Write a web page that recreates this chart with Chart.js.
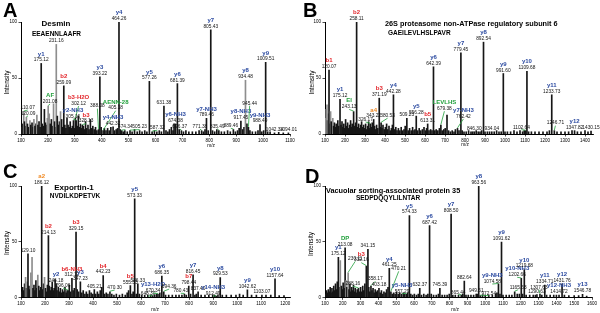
<!DOCTYPE html>
<html>
<head>
<meta charset="utf-8">
<script src="https://cdn.jsdelivr.net/npm/chart.js@4.4.1/dist/chart.umd.min.js"></script>
<style>
  body { margin: 0; background: #fff; }
  #fig { position: relative; width: 600px; height: 313px; overflow: hidden; background: #fff; }
  canvas { position: absolute; }
  .t { position: absolute; font-family: "Liberation Sans", Arial, sans-serif; font-weight: bold;
       white-space: nowrap; line-height: 1; color: #000; }
  .c { transform: translate(-50%, -50%); }
  .l { transform: translate(0, -50%); }
</style>
</head>
<body>
<div id="fig">
  <canvas id="cA" width="300" height="156" style="left:0;top:0"></canvas>
  <canvas id="cB" width="300" height="156" style="left:300px;top:0"></canvas>
  <canvas id="cC" width="300" height="157" style="left:0;top:156px"></canvas>
  <canvas id="cD" width="300" height="157" style="left:300px;top:156px"></canvas>

  <div class="t" style="left:3px;top:0;font-size:20px">A</div>
  <div class="t" style="left:303px;top:0;font-size:20px">B</div>
  <div class="t" style="left:3px;top:161px;font-size:20px">C</div>
  <div class="t" style="left:305px;top:166px;font-size:20px">D</div>

  <div class="t c" style="left:56px;top:24px;font-size:8px">Desmin</div>
  <div class="t c" style="left:56.5px;top:33.5px;font-size:6.5px">EEAENNLAAFR</div>
  <div class="t l" style="left:385px;top:24.2px;font-size:7.3px">26S proteasome non-ATPase regulatory subunit 6</div>
  <div class="t l" style="left:388px;top:32.5px;font-size:6.5px">GAEILEVLHSLPAVR</div>
  <div class="t c" style="left:74px;top:187.7px;font-size:8px">Exportin-1</div>
  <div class="t c" style="left:75px;top:196px;font-size:6.5px">NVDILKDPETVK</div>
  <div class="t l" style="left:326px;top:190.5px;font-size:7.3px">Vacuolar sorting-associated protein 35</div>
  <div class="t c" style="left:388px;top:198.3px;font-size:6.5px">SEDPDQQYLILNTAR</div>
</div>
<script>
// [m/z, relative intensity]
const peaksA = [
  [103,6],[106,9],[110.07,20],[113,11],[117,7],[120.09,15],[124,9],[129,6],[133,12],[136,8],[141,10],[145,6],
  [148,13],[152,7],[156,9],[159,17],[163,8],[167,11],[171,6],[175.12,63],[179,9],[183,7],[187,22],[191,10],
  [195,8],[198,14],[201.08,25],[205,18],[209,9],[213,13],[217,7],[221,27],[225,11],[228,6],[231.16,80],[235,16],
  [239,8],[243,11],[247,20],[251,13],[255,6],[259.09,43],[263,8],[267,5],[271,14],[275,8],[279,6],[283,11],
  [287,5],[291,7],[295,12],[299,5],[302.12,14],[305.16,12],[309,7],[313,16],[317,6],[321,9],[325,5],[328.13,8],
  [332,7],[336,4],[340,11],[344,5],[349,8],[353,4],[358,13],[362,5],[367,7],[372,4],[377,6],[382,3],[388.08,4],
  [393.22,51],[398,6],[405.18,3],[410,5],[416,3],[422,5],[428,3],[434,6],[442.32,6.5],[448,3],[454,4],[459,5],
  [464.26,100],[469,4],[474.34,3],[480,2],[486,3],[495,2],[505.23,3],[513,2],[522,4],[532,2],[541,3],[550,2],
  [560,3],[568,2],[577.26,47],[587.32,2],[596,3],[605,2],[614,3],[622,2],[631.38,25],[639,3],[646,2],[652,4],
  [659,6],[665,3],[669,9],[674.38,9],[681.39,45],[688,4],[696.37,3],[704,2],[713,3],[724,2],[737,2],[750,2],
  [762,3],[771.38,3],[778,2],[784,4],[789.46,14],[796,3],[805.43,93],[812,3],[820,2],[828,4],[835.49,3],[845,2],
  [856,2],[868,3],[878,2],[889.46,4],[897,2],[905,3],[911,5],[917.45,11.5],[924,4],[929,6],[934.48,48],[940,9],
  [945.44,6],[951,3],[960,2],[972,2],[981,3],[988.49,8.5],[995,2],[1002,3],[1009.51,64],[1017,2],[1026,2],
  [1042.34,1],[1058,1.5],[1075,1],[1094.01,1]
];
const peaksB = [
  [103,14],[106,22],[110,26],[113,12],[116,18],[120.07,57],[124,9],[128,20],[131,11],[135,8],[139,14],[143,7],
  [147,10],[151,6],[156,9],[160,5],[164,12],[168,7],[175.12,31],[180,8],[185,11],[189,6],[194,9],[198,5],
  [203,13],[208,7],[213,10],[218,5],[223,8],[228,12],[232,6],[236,9],[243.13,20],[248,7],[253,10],[258.11,100],
  [263,6],[268,9],[273,5],[278,8],[283,11],[288,6],[293,8],[298,5],[303,9],[308,4],[313,7],[318,11],[322,5],
  [326.17,9],[331,6],[336,10],[340,5],[343.22,13],[348,7],[353,4],[358,8],[364,5],[371.19,32],[376,6],
  [380.53,10],[385,5],[390,8],[396,4],[402,6],[408,9],[414,4],[420,7],[426,3],[432,5],[437,8],[442.28,35],
  [448,4],[454,6],[460,3],[467,5],[474,3],[481,6],[488,3],[495,4],[501,7],[509.23,14],[516,3],[523,5],[531,3],
  [538,6],[545,3],[550,4],[556.28,16],[563,3],[571,5],[579,3],[587,4],[595,6],[602,3],[608,5],[613.31,9],
  [620,3],[628,4],[635,3],[642.39,60],[649,3],[656,4],[664,3],[672,5],[679.38,8],[686,3],[694,4],[701,5],
  [710,17],[718,3],[727,2],[736,3],[745,2],[752,4],[762.42,5],[770,3],[779.45,72.5],[786,3],[795,2],[806,2],
  [818,3],[830,2],[838,2],[846.3,2],[856,3],[866,2],[875,2],[883,3],[892.54,82],[900,2],[912,2],[923,2],
  [934.04,2],[946,2],[958,3],[970,2],[981,2],[991.6,54],[1000,2],[1012,2],[1028,2],[1045,3],[1060,2],[1075,3],
  [1088,2],[1096,3],[1102.64,3],[1109.68,56],[1118,2],[1132,2],[1150,2],[1170,2],[1190,2],[1210,2],[1222,3],
  [1233.73,35],[1246.71,3],[1260,2],[1280,2],[1300,2],[1318,2],[1335,3],[1347.82,3],[1362,2],[1380,2],
  [1400,3],[1415,2],[1430.15,2.5]
];
const peaksC = [
  [103,5],[107,9],[111,6],[115,12],[119,18],[123,8],[126,14],[129.1,39],[133,10],[137,7],[141,22],[146,36],
  [150,8],[154,11],[158,6],[162,15],[166,8],[170,20],[174,10],[178,6],[182,9],[186.12,100],[190,7],[194,12],
  [198,18],[202,8],[206,5],[210,11],[214.13,55.5],[218,10],[222,6],[226,9],[230,14],[234,6],[238,8],[242,16],
  [246.18,12],[250,6],[255,9],[259,5],[264,8],[268,4],[273,7],[278,5],[283,9],[288,4],[292,6],[296.06,6],
  [301,11],[306,5],[312.12,17],[317,6],[322,8],[329.15,58.7],[334,7],[340,5],[347.23,14],[353,4],[359,6],
  [366,3],[372,5],[378,3],[385,6],[392,4],[399,3],[405.21,7],[411,3],[418,5],[424,3],[430,6],[436,9],
  [442.23,19.6],[448,3],[455,4],[462,3],[470.3,5],[478,3],[487,2],[497,3],[510,2],[522,3],[534,2],[542,4],
  [548,6],[555.33,10.5],[562,3],[567,5],[573.33,88.5],[580,3],[586.33,12],[593,3],[603,2],[615,2],[628,2],
  [640,2],[648.3,1.5],[656,2],[664,3],[670.34,3],[678,4],[686.35,19],[694.36,5],[702,2],[715,2],[730,2],
  [745,2],[758,2],[770,2],[780.43,3],[788,2],[798.44,10],[806,3],[816.45,20.2],[824,2],[830,3],[837.4,5],
  [850,2],[866,2],[882,2],[898,2],[906,2],[912.49,1],[920,2],[929.53,17.8],[938,2],[955,2],[975,2],[995,2],
  [1010,3],[1025,2],[1042.62,6.7],[1060,2],[1080,2],[1103.07,2],[1120,2],[1140,2],[1157.64,16.6],[1175,1.5],
  [1195,1.5]
];
const peaksD = [
  [104,3],[109,6],[114,4],[119,7],[124,5],[129,9],[134,4],[139,8],[144,5],[149,10],[154,6],[159,12],[164,7],
  [169,14],[175.12,36],[180,9],[186,33],[192,10],[197,7],[202,13],[207,8],[213.08,44.5],[218,15],[223,9],
  [230.11,22],[235,7],[240,12],[245,5],[250,9],[255,6],[260,11],[265,5],[270,8],[275,4],[281,7],[288.16,8],
  [294,5],[300,9],[306,5],[312,10],[318,6],[324,12],[332.16,28],[341.15,43],[346,9],[352,5],[358.17,10],
  [364,6],[370,8],[376,4],[382,7],[388,5],[395,6],[403.18,8],[410,4],[417,6],[424,3],[431,5],[438,4],[446,7],
  [454,9],[461.25,26],[470.21,5],[478,3],[486,4],[494,3],[502,5],[511,3],[520,4],[530,3],[540,4],[548,3],
  [557.29,3],[565,4],[574.33,73.5],[582,3],[592,2],[602,3],[614,2],[624,3],[632.37,8],[642,2],[655,3],
  [668,2],[678,3],[687.42,64.5],[697,3],[710,2],[725,2],[737,3],[745.39,8],[758,2],[772,2],[786,2],[798,3],
  [808.5,74.7],[818,2],[832,2],[850,2],[865.44,2],[874,3],[882.64,14.6],[892,2],[905,2],[920,2],[935,2],
  [949.51,3],[956,3],[963.56,100],[972.54,1.5],[985,2],[1000,2],[1020,2],[1040,2],[1058,3],[1066,4],
  [1074.58,12],[1083,3],[1091.62,49.6],[1100,2],[1118,2],[1135,2],[1150,2],[1165.63,5],[1180,3],[1192,3],
  [1202.66,17],[1210,3],[1219.68,25],[1230,2],[1250,2],[1270,2],[1282,2],[1290.63,2.5],[1307.63,3],[1318,2],
  [1334.71,11],[1345,2],[1365,2],[1385,2],[1400,2],[1414.72,2],[1431.76,12],[1445,2],[1470,1.5],[1500,1.5],
  [1525,1.5],[1546.78,2.7],[1570,1]
];

// annotated peaks: [m/z, ion name]
const labelsA = [
  [110.07,''],[120.09,''],[175.12,'y1'],[201.08,'AF'],[231.16,''],[259.09,'b2'],[302.12,'b3-H2O'],
  [305.16,'y2-NH3'],[328.13,'b3'],[388.08,''],[393.22,'y3'],[405.18,'AENN-28'],[442.32,'y4-NH3'],
  [464.26,'y4'],[474.34,''],[505.23,''],[577.26,'y5'],[587.32,''],[631.38,''],[674.38,'y6-NH3'],
  [681.39,'y6'],[696.37,''],[771.38,''],[789.46,'y7-NH3'],[805.43,'y7'],[835.49,''],[889.46,''],
  [917.45,'y8-NH3'],[934.48,'y8'],[945.44,''],[988.49,'y9-NH3'],[1009.51,'y9'],[1042.34,''],[1094.01,'']
];
const labelsB = [
  [120.07,'b1'],[175.12,'y1'],[243.13,'EI'],[258.11,'b2'],[326.17,''],[343.22,'a4'],[371.19,'b3'],
  [380.53,''],[442.28,'y4'],[509.23,''],[556.28,'y5'],[613.31,'b5'],[642.39,'y6'],[679.38,'LEVLHS'],
  [762.42,'y7-NH3'],[779.45,'y7'],[846.3,''],[892.54,'y8'],[934.04,''],[991.6,'y9'],[1102.64,''],
  [1109.68,'y10'],[1233.73,'y11'],[1246.71,''],[1347.82,'y12'],[1430.15,'']
];
const labelsC = [
  [129.1,''],[186.12,'a2'],[214.13,'b2'],[246.18,'y2'],[296.06,''],[312.12,'b6-NH3'],[329.15,'b3'],
  [347.23,'y3'],[405.21,''],[442.23,'b4'],[470.3,''],[555.33,'b5'],[573.33,'y5'],[586.33,''],[648.3,''],
  [670.34,'y13-H2O'],[686.35,'y6'],[694.36,''],[780.43,''],[798.44,'b7'],[816.45,'y7'],[837.4,''],
  [912.49,'y14-NH3'],[929.53,'y8'],[1042.62,'y9'],[1103.07,''],[1157.64,'y10']
];
const labelsD = [
  [175.12,'y1'],[213.08,'DP'],[230.11,''],[288.16,''],[332.16,'b3'],[341.15,''],[358.17,''],[403.18,''],
  [461.25,'y4'],[470.21,''],[557.29,'y5-NH3'],[574.33,'y5'],[632.37,''],[687.42,'y6'],[745.39,''],
  [808.5,'y7'],[865.44,''],[882.64,''],[949.51,''],[963.56,'y8'],[972.54,''],[1074.58,'y9-NH3'],
  [1091.62,'y9'],[1165.63,''],[1202.66,'y10-NH3'],[1219.68,'y10'],[1290.63,''],[1307.63,''],
  [1334.71,'y11'],[1414.72,'y12-NH3'],[1431.76,'y12'],[1546.78,'y13']
];

// labels moved off their peak (label anchor in m/z, intensity units) get a green leader line
const leadersA = {
  110.07:[125,22.5], 120.09:[126,17.2], 201.08:[208,27.7], 302.12:[314,26], 305.16:[293,14.5],
  328.13:[342,10.3], 388.08:[384,23.7], 405.18:[452,21.9], 474.34:[488,5], 505.23:[541,5],
  587.32:[607,4.5], 696.37:[690,5.5], 771.38:[765,5.4], 835.49:[830,5.8], 889.46:[880,6.2], 945.44:[950,26.3]
};
const leadersB = {
  243.13:[221,23], 326.17:[303,11.8], 380.53:[413,15.2], 679.38:[697,21.4], 762.42:[792,14.5],
  1102.64:[1082,4.9], 1246.71:[1252,8.5]
};
const leadersC = {
  296.06:[275,9.4], 470.3:[490,7.6], 648.3:[629,2], 670.34:[650,4.7], 694.36:[717,8.5],
  780.43:[765,4.7], 912.49:[900,2.2]
};
const leadersD = {
  230.11:[270,33.4], 288.16:[257,11], 332.16:[304,32.2], 358.17:[383,15.5], 470.21:[514,24.4],
  557.29:[533,4.3], 865.44:[848,3.4], 972.54:[1020,2.5], 1074.58:[1040,13], 1165.63:[1185,7.9],
  1202.66:[1180,19], 1307.63:[1302,7.9]
};

// peaks drawn in grey
const greyA = [110.07,120.09,133,148,159,198,201.08,205,221,231.16,247,934.48];
const greyB = [103,106,110,116,128,139];
const greyC = [119,126,141,146,170,198];
const greyD = [186,218,230.11];

const FONT = '"Liberation Sans", Arial, sans-serif';
const BLUE = '#2b4aa0', RED = '#e3262b', GREEN = '#22a03c', ORANGE = '#f08a24';

function ionColor(ion) {
  if (/^y\d/.test(ion)) return BLUE;
  if (/^b\d/.test(ion)) return RED;
  if (/^a\d/.test(ion)) return ORANGE;
  return GREEN;
}

const peakLabels = {
  id: 'peakLabels',
  afterDatasetsDraw(chart, args, o) {
    const { ctx, scales: { x, y } } = chart;
    ctx.save();
    ctx.textAlign = 'center';
    ctx.textBaseline = 'alphabetic';
    for (const [mz, ion] of o.labels) {
      const pk = o.peaks.find(p => Math.abs(p[0] - mz) < 1e-6);
      const px = x.getPixelForValue(mz);
      const py = y.getPixelForValue(pk ? pk[1] : 0);
      let tx = px, ty = py - 2;
      const ld = o.leaders[mz];
      if (ld) {
        tx = x.getPixelForValue(ld[0]);
        ty = y.getPixelForValue(ld[1]);
        ctx.strokeStyle = GREEN;
        ctx.lineWidth = 0.8;
        ctx.beginPath();
        ctx.moveTo(tx, ty + 1.2);
        ctx.lineTo(px, py - 0.5);
        ctx.stroke();
      }
      ctx.fillStyle = '#111';
      ctx.font = `4.8px ${FONT}`;
      ctx.fillText(mz.toFixed(2), tx, ty);
      if (ion) {
        ctx.fillStyle = ionColor(ion);
        ctx.font = `bold 6px ${FONT}`;
        ctx.fillText(ion, tx, ty - 5.8);
      }
    }
    // axis titles
    ctx.fillStyle = '#000';
    ctx.textBaseline = 'middle';
    ctx.font = `4.8px ${FONT}`;
    ctx.fillText('m/z', o.mzPos[0], o.mzPos[1]);
    ctx.translate(o.yPos[0], o.yPos[1]);
    ctx.rotate(-Math.PI / 2);
    ctx.font = `6.5px ${FONT}`;
    ctx.fillText('Intensity', 0, 0);
    ctx.restore();
  }
};

function makePanel(id, peaks, labels, leaders, grey, cfg) {
  new Chart(document.getElementById(id), {
    type: 'bar',
    data: {
      datasets: [{
        data: peaks.map(([m, v]) => ({ x: m, y: v })),
        backgroundColor: c => (c.raw && grey.includes(c.raw.x)) ? '#8e8e8e' : '#161616',
        barThickness: 1,
        borderWidth: 0
      }]
    },
    options: {
      responsive: false,
      animation: false,
      devicePixelRatio: 1,
      layout: { padding: { left: 0, right: cfg.padRight, top: cfg.padTop, bottom: 0 } },
      plugins: {
        legend: { display: false },
        tooltip: { enabled: false },
        peakLabels: { peaks, labels, leaders, mzPos: cfg.mzPos, yPos: cfg.yPos }
      },
      scales: {
        x: {
          type: 'linear', min: 100, max: cfg.max, offset: false,
          afterFit: s => { s.height = cfg.xHeight; },
          ticks: { stepSize: 100, includeBounds: false, autoSkip: false, maxRotation: 0,
                   callback: v => String(v),
                   color: '#000', font: { size: 4.5, family: FONT }, padding: 1.5 },
          grid: { offset: false, drawOnChartArea: false, tickLength: 2.5, color: '#000', lineWidth: 0.7 },
          border: { color: '#000', width: 1 }
        },
        y: {
          min: 0, max: 100,
          afterFit: s => { s.width = cfg.yWidth; },
          ticks: { stepSize: 50, color: '#000', font: { size: 4.5, family: FONT }, padding: 1.5 },
          grid: { drawOnChartArea: false, tickLength: 2.5, color: '#000', lineWidth: 0.7 },
          border: { color: '#000', width: 1 }
        }
      }
    },
    plugins: [peakLabels]
  });
}

makePanel('cA', peaksA, labelsA, leadersA, greyA,
  { max: 1100, padRight: 10, padTop: 22, xHeight: 22, yWidth: 21, mzPos: [211, 145.3], yPos: [7.5, 82.5] });
makePanel('cB', peaksB, labelsB, leadersB, greyB,
  { max: 1440, padRight: 7, padTop: 22, xHeight: 22, yWidth: 25, mzPos: [165, 145], yPos: [12.5, 82.5] });
makePanel('cC', peaksC, labelsC, leadersC, greyC,
  { max: 1220, padRight: 10, padTop: 30, xHeight: 15.7, yWidth: 21, mzPos: [155, 153.5], yPos: [7.5, 87] });
makePanel('cD', peaksD, labelsD, leadersD, greyD,
  { max: 1600, padRight: 8, padTop: 30, xHeight: 15.7, yWidth: 25, mzPos: [155, 153.5], yPos: [10.8, 88] });
</script>
</body>
</html>
